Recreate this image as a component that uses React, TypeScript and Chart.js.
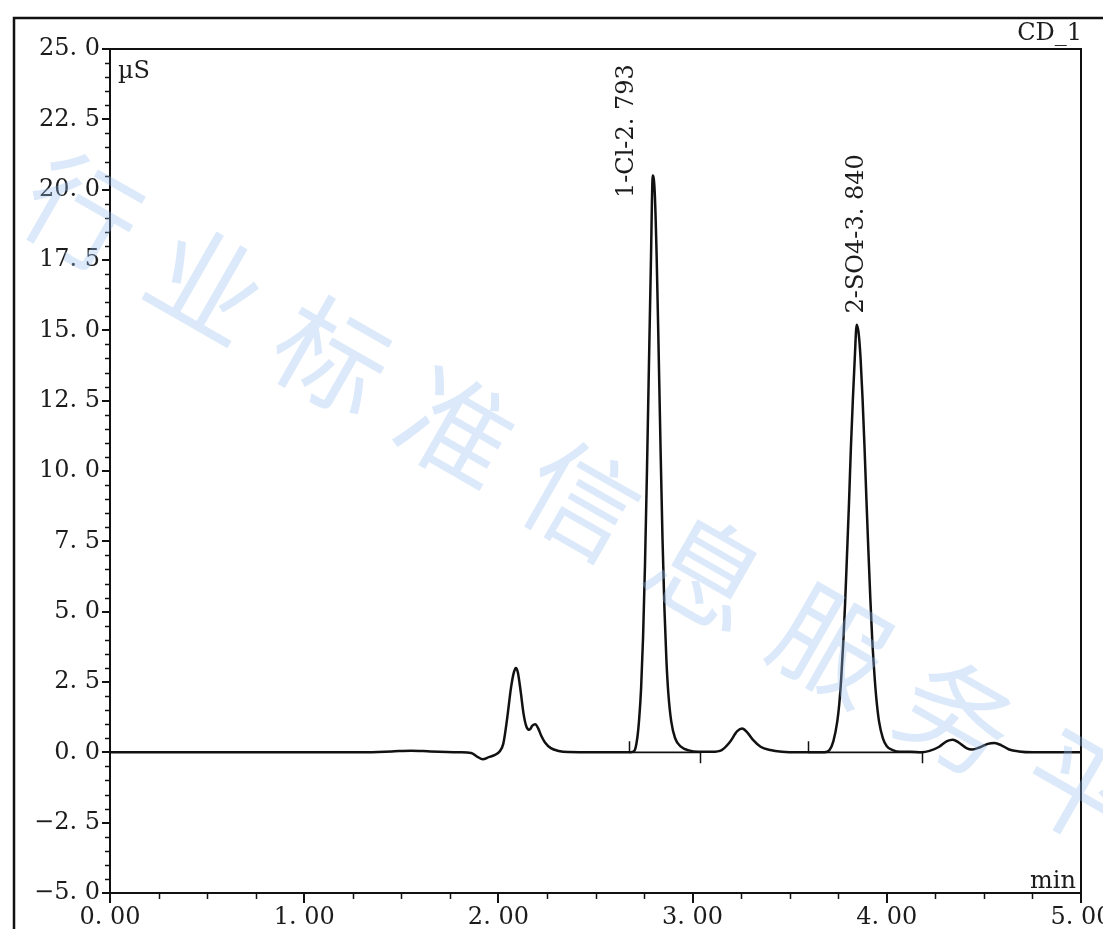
import React, { useEffect, useRef } from 'react';
import { Chart, registerables } from 'chart.js';
Chart.register(...registerables);

// retention time (min)
const times = [
  0.0, 0.5, 1.0, 1.3, 1.45, 1.55, 1.65, 1.8, 1.86, 1.89, 1.92, 1.95, 1.98, 2.005, 2.025, 2.045, 2.065, 2.08, 2.09, 2.1,
  2.115, 2.13, 2.145, 2.16, 2.175, 2.19, 2.205, 2.22, 2.24, 2.27, 2.31, 2.36, 2.5, 2.6, 2.68, 2.7, 2.715, 2.725, 2.735,
  2.745, 2.755, 2.765, 2.775, 2.785, 2.795, 2.805, 2.815, 2.825, 2.835, 2.845, 2.855, 2.865, 2.875, 2.89, 2.91, 2.94,
  2.98, 3.03, 3.1, 3.15, 3.19, 3.23, 3.255, 3.28, 3.31, 3.35, 3.4, 3.46, 3.55, 3.68, 3.705, 3.725, 3.745, 3.755, 3.765,
  3.775, 3.785, 3.795, 3.805, 3.815, 3.825, 3.835, 3.845, 3.855, 3.865, 3.875, 3.885, 3.895, 3.905, 3.915, 3.925, 3.935,
  3.945, 3.96, 3.98, 4.0, 4.03, 4.07, 4.12, 4.18, 4.22, 4.27, 4.31, 4.34, 4.37, 4.41, 4.44, 4.48, 4.52, 4.555, 4.59,
  4.63, 4.68, 4.75, 5.0,
];
// conductivity (µS)
const signal = [
  0, 0, 0, 0, 0.03, 0.06, 0.03, 0.0, -0.02, -0.15, -0.25, -0.17, -0.1, 0.02, 0.3, 1.2, 2.3, 2.85, 3.0, 2.85,
  2.15, 1.35, 0.9, 0.8, 0.95, 1.0, 0.85, 0.6, 0.35, 0.15, 0.05, 0.01, 0, 0, 0.0, 0.05, 0.5, 1.2, 2.3,
  4.1, 6.7, 10.0, 13.7, 17.3, 20.5, 19.9, 17.6, 14.3, 10.8, 7.6, 5.1, 3.3, 2.1, 1.1, 0.5, 0.2,
  0.07, 0.02, 0.02, 0.08, 0.35, 0.75, 0.85, 0.72, 0.45, 0.2, 0.08, 0.02, 0, 0, 0.08, 0.4, 1.1, 1.7, 2.6,
  3.8, 5.25, 7.0, 8.8, 10.8, 12.5, 14.0, 15.2, 14.9, 14.0, 12.6, 10.9, 9.0, 7.2, 5.5, 4.0, 2.9,
  2.0, 1.1, 0.5, 0.22, 0.08, 0.02, 0.02, 0.0, 0.05, 0.2, 0.4, 0.45, 0.35, 0.15, 0.1, 0.18, 0.3, 0.33, 0.25,
  0.1, 0.03, 0, 0,
];

const xTickValues = [0, 1, 2, 3, 4, 5];
const xTickLabels = ['0. 00', '1. 00', '2. 00', '3. 00', '4. 00', '5. 00'];
const yTickValues = [-5, -2.5, 0, 2.5, 5, 7.5, 10, 12.5, 15, 17.5, 20, 22.5, 25];
const yTickLabels = ['−5. 0', '−2. 5', '0. 0', '2. 5', '5. 0', '7. 5', '10. 0', '12. 5', '15. 0', '17. 5', '20. 0', '22. 5', '25. 0'];

// peak integration markers
const markerTimes = [2.675, 3.04, 3.595, 4.18];
const markerDirs = [1, -1, 1, -1];
const baseStarts = [2.675, 3.595];
const baseEnds = [3.04, 4.18];

// peak annotations
const peakLabels = ['1-Cl-2. 793', '2-SO4-3. 840'];
const peakLabelTimes = [2.662, 3.846];
const peakLabelValues = [19.7, 15.6];

const FONT = '"DejaVu Serif", serif';
const TEXT = '#1c1c1c';
const INK = '#111111';

const decorPlugin = {
  id: 'decor',
  afterDraw(chart: any) {
    const ctx = chart.ctx;
    const { left, right, top, bottom } = chart.chartArea;
    const xs = chart.scales.x;
    const ys = chart.scales.y;
    ctx.save();
    ctx.strokeStyle = INK;
    // outer frame
    ctx.lineWidth = 2.5;
    ctx.beginPath();
    ctx.moveTo(14, 935);
    ctx.lineTo(14, 18);
    ctx.lineTo(1110, 18);
    ctx.stroke();
    // plot frame
    ctx.lineWidth = 2;
    ctx.strokeRect(left, top, right - left, bottom - top);
    // minor ticks
    ctx.lineWidth = 1.5;
    ctx.beginPath();
    for (let v = -5; v <= 25.001; v += 0.5) {
      if (Math.abs(v / 2.5 - Math.round(v / 2.5)) < 1e-6) continue;
      const y = Math.round(ys.getPixelForValue(v)) + 0.5;
      ctx.moveTo(left - 5, y);
      ctx.lineTo(left, y);
    }
    for (let v = 0; v <= 5.001; v += 0.25) {
      if (Math.abs(v - Math.round(v)) < 1e-6) continue;
      const x = Math.round(xs.getPixelForValue(v)) + 0.5;
      ctx.moveTo(x, bottom);
      ctx.lineTo(x, bottom + 6);
    }
    ctx.stroke();
    // peak start/end markers
    ctx.beginPath();
    const y0 = ys.getPixelForValue(0);
    markerTimes.forEach((t, i) => {
      const x = Math.round(xs.getPixelForValue(t)) + 0.5;
      ctx.moveTo(x, y0);
      ctx.lineTo(x, y0 - markerDirs[i] * 11);
    });
    ctx.stroke();
    // peak labels
    ctx.fillStyle = TEXT;
    ctx.font = `24px ${FONT}`;
    peakLabels.forEach((lab, i) => {
      const x = xs.getPixelForValue(peakLabelTimes[i]);
      const y = ys.getPixelForValue(peakLabelValues[i]);
      ctx.save();
      ctx.translate(x, y);
      ctx.rotate(-Math.PI / 2);
      ctx.textAlign = 'left';
      ctx.textBaseline = 'middle';
      ctx.fillText(lab, 0, 0);
      ctx.restore();
    });
    // unit and channel texts
    ctx.textBaseline = 'alphabetic';
    ctx.textAlign = 'left';
    ctx.fillText('µS', left + 8, top + 29);
    ctx.textAlign = 'right';
    ctx.fillText('CD_1', right + 1, top - 9);
    ctx.fillText('min', right - 5, bottom - 5);
    // watermark
    ctx.font = `112px "Noto Sans CJK SC", sans-serif`;
    ctx.fillStyle = 'rgba(150, 190, 240, 0.34)';
    ctx.textAlign = 'center';
    ctx.textBaseline = 'middle';
    const wm = '行业标准信息服务平';
    for (let i = 0; i < wm.length; i++) {
      const cx = 82 + i * 125;
      const cy = 212 + i * 72;
      ctx.save();
      ctx.translate(cx, cy);
      ctx.rotate(0.52);
      ctx.fillText(wm[i], 0, 0);
      ctx.restore();
    }
    ctx.restore();
  },
};

export default function App() {
  const ref = useRef<HTMLCanvasElement | null>(null);
  useEffect(() => {
    if (!ref.current) return;
    const baseline: any[] = [];
    baseStarts.forEach((s, i) => {
      baseline.push({ x: s, y: 0 });
      baseline.push({ x: baseEnds[i], y: 0 });
      baseline.push({ x: baseEnds[i], y: null });
    });
    const chart = new Chart(ref.current, {
      type: 'line',
      data: {
        datasets: [
          {
            data: times.map((t, i) => ({ x: t, y: signal[i] })),
            borderColor: INK,
            borderWidth: 2.5,
            pointRadius: 0,
            cubicInterpolationMode: 'monotone',
            fill: false,
          },
          {
            data: baseline,
            borderColor: INK,
            borderWidth: 1.6,
            pointRadius: 0,
            spanGaps: false,
            fill: false,
          },
        ],
      },
      options: {
        responsive: false,
        animation: false,
        layout: { padding: { top: 49, right: 22, left: 0, bottom: 0 } },
        plugins: { legend: { display: false }, tooltip: { enabled: false } },
        scales: {
          x: {
            type: 'linear',
            min: 0,
            max: 5,
            afterBuildTicks: (s: any) => {
              s.ticks = xTickValues.map((v) => ({ value: v }));
            },
            afterFit: (s: any) => {
              s.height = 36;
              s.paddingLeft = 0;
              s.paddingRight = 0;
            },
            ticks: {
              callback: (v: any) => xTickLabels[xTickValues.indexOf(Number(v))] ?? '',
              font: { family: FONT, size: 24 },
              color: TEXT,
              padding: 0,
              maxRotation: 0,
              autoSkip: false,
            },
            grid: { display: true, drawOnChartArea: false, drawTicks: true, tickLength: 10, color: INK, lineWidth: 2 },
            border: { display: true, color: INK, width: 2 },
          },
          y: {
            type: 'linear',
            min: -5,
            max: 25,
            afterBuildTicks: (s: any) => {
              s.ticks = yTickValues.map((v) => ({ value: v }));
            },
            afterFit: (s: any) => {
              s.width = 110;
              s.paddingTop = 0;
              s.paddingBottom = 0;
            },
            ticks: {
              callback: (v: any) => yTickLabels[yTickValues.indexOf(Number(v))] ?? '',
              font: { family: FONT, size: 24 },
              color: TEXT,
              padding: 2,
              autoSkip: false,
            },
            grid: { display: true, drawOnChartArea: false, drawTicks: true, tickLength: 8, color: INK, lineWidth: 2 },
            border: { display: true, color: INK, width: 2 },
          },
        },
      },
      plugins: [decorPlugin],
    } as any);
    return () => chart.destroy();
  }, []);
  return (
    <div style={{ position: 'absolute', left: 0, top: 0, width: 1103, height: 929, background: '#fff' }}>
      <canvas ref={ref} width={1103} height={929} style={{ display: 'block' }} />
    </div>
  );
}
